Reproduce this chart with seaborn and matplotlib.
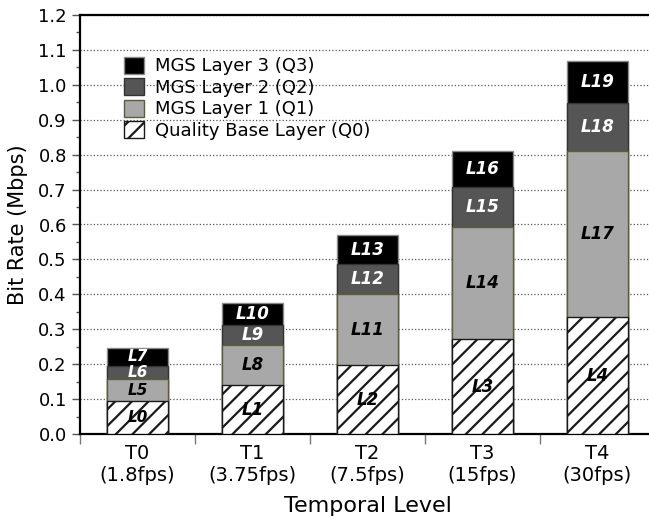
import numpy as np
import pandas as pd
import matplotlib
matplotlib.use("Agg")
import matplotlib.pyplot as plt
import seaborn as sns
from matplotlib.patches import Patch
from matplotlib.ticker import MultipleLocator, FixedLocator

# values (Mbps)
levels = ["T0\n(1.8fps)", "T1\n(3.75fps)", "T2\n(7.5fps)", "T3\n(15fps)", "T4\n(30fps)"]
q0_top = [0.095, 0.139, 0.197, 0.272, 0.335]   # quality base layer
q1_top = [0.157, 0.254, 0.400, 0.593, 0.810]   # cumulative up to MGS 1
q2_top = [0.196, 0.313, 0.486, 0.706, 0.949]   # cumulative up to MGS 2
q3_top = [0.246, 0.376, 0.570, 0.810, 1.069]   # cumulative up to MGS 3

q0_labels = ["L0", "L1", "L2", "L3", "L4"]
q1_labels = ["L5", "L8", "L11", "L14", "L17"]
q2_labels = ["L6", "L9", "L12", "L15", "L18"]
q3_labels = ["L7", "L10", "L13", "L16", "L19"]

sns.set_style("white")
plt.rcParams["font.family"] = ["DejaVu Sans"]
plt.rcParams["hatch.linewidth"] = 1.6
for k in ["text.color", "axes.labelcolor", "xtick.labelcolor", "ytick.labelcolor"]:
    plt.rcParams[k] = "black"

fig = plt.figure(figsize=(6.49, 5.21), dpi=100)
ax = fig.add_axes([80 / 649, 87 / 521, 575 / 649, 419 / 521])

df = pd.DataFrame({"level": levels, "q0": q0_top, "q1": q1_top, "q2": q2_top, "q3": q3_top})

# stacked look: draw cumulative totals from the tallest down
layers = [
    ("q3", "black", "#8a8a8a", "", "MGS Layer 3 (Q3)"),
    ("q2", "#555555", "#333333", "", "MGS Layer 2 (Q2)"),
    ("q1", "#a8a8a8", "#5c5c3a", "", "MGS Layer 1 (Q1)"),
    ("q0", "white", "#1a1a1a", "//", "Quality Base Layer (Q0)"),
]
for col, fc, ec, hatch, _ in layers:
    sns.barplot(data=df, x="level", y=col, color=fc, width=0.53, ax=ax,
                saturation=1, edgecolor=ec, linewidth=1.0, hatch=hatch, zorder=3)

# segment labels
bottoms = [[0] * 5, q0_top, q1_top, q2_top]
tops = [q0_top, q1_top, q2_top, q3_top]
texts = [q0_labels, q1_labels, q2_labels, q3_labels]
colors = ["black", "black", "white", "white"]
for b, t, lab, c in zip(bottoms, tops, texts, colors):
    for i in range(5):
        fs = 11 if i == 0 else 12
        ax.text(i, (b[i] + t[i]) / 2, lab[i], ha="center", va="center",
                fontsize=fs, fontweight="bold", fontstyle="italic", color=c, zorder=5)

ax.set_xlim(-0.5, 4.5)
ax.set_ylim(0, 1.2)
ax.yaxis.set_major_locator(MultipleLocator(0.1))
ax.yaxis.set_minor_locator(MultipleLocator(0.05))
ax.yaxis.set_major_formatter(matplotlib.ticker.FormatStrFormatter("%.1f"))
ax.grid(axis="y", which="major", linestyle=":", color="#555555", linewidth=0.9, zorder=0)
ax.set_axisbelow(True)

# labels sit on bar centres, ticks sit between groups
ax.xaxis.set_major_locator(FixedLocator([-0.5, 0.5, 1.5, 2.5, 3.5]))
ax.xaxis.set_minor_locator(FixedLocator([0, 1, 2, 3, 4]))
ax.xaxis.set_major_formatter(matplotlib.ticker.NullFormatter())
ax.xaxis.set_minor_formatter(matplotlib.ticker.FixedFormatter(levels))
ax.tick_params(axis="x", which="major", direction="out", length=7, width=1, color="#777777", bottom=True)
ax.tick_params(axis="x", which="minor", length=0, labelsize=14, pad=7)
ax.tick_params(axis="y", which="major", direction="out", length=6, width=1, color="#555555", left=True, labelsize=13)
ax.tick_params(axis="y", which="minor", direction="out", length=3, width=1, color="#555555", left=True)

for s in ["left", "bottom", "top"]:
    ax.spines[s].set_visible(True)
    ax.spines[s].set_linewidth(1.6)
    ax.spines[s].set_color("black")
ax.spines["right"].set_visible(False)

ax.set_xlabel("Temporal Level", fontsize=16, labelpad=8)
ax.set_ylabel("Bit Rate (Mbps)", fontsize=15, labelpad=7)

handles = [Patch(facecolor=fc, edgecolor=ec, hatch=h, label=lab) for _, fc, ec, h, lab in layers]
ax.legend(handles=handles, loc="upper left", bbox_to_anchor=(0.064, 0.918), frameon=False,
          fontsize=13, handlelength=1.1, handleheight=1.1, handletextpad=0.6, labelspacing=0.15,
          borderaxespad=0)

fig.savefig("out.png", dpi=100)
